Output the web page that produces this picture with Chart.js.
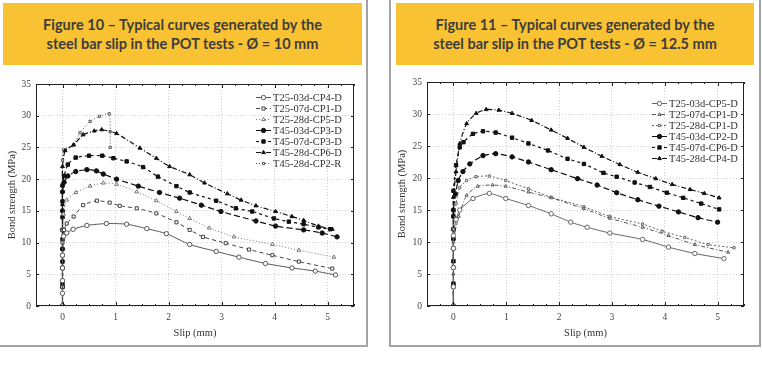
<!DOCTYPE html>
<html>
<head>
<meta charset="utf-8">
<script src="https://cdn.jsdelivr.net/npm/chart.js@4.4.0/dist/chart.umd.min.js"></script>
<style>
    body { margin: 0; width: 762px; height: 367px; background: #fff; position: relative; overflow: hidden; }
    .panel { position: absolute; top: -2px; border: 2px solid #a3a3a3; box-sizing: border-box; }
    .header {
        position: absolute; top: 3px; height: 62px; background: #f9c232;
        color: #3d3d3d; font-family: 'Lato', sans-serif; font-weight: 700; font-size: 14.5px;
        line-height: 19px; text-align: center; display: flex; align-items: center; justify-content: center;
    }
    canvas { position: absolute; }
</style>
</head>
<body>
<div class="panel" style="left:-2px; width:370px; height:349px;"></div>
<div class="panel" style="left:389px; width:372px; height:349px;"></div>
<div class="header" style="left:3px; width:359px;">Figure 10 – Typical curves generated by the<br>steel bar slip in the POT tests - Ø = 10 mm</div>
<div class="header" style="left:396px; width:358px;">Figure 11 – Typical curves generated by the<br>steel bar slip in the POT tests - Ø = 12.5 mm</div>
<canvas id="chart10" width="366" height="274" style="left:0px; top:70px;"></canvas>
<canvas id="chart12" width="366" height="276" style="left:390px; top:68px;"></canvas>
<script>
// axis ticks
const xTicks = [0, 1, 2, 3, 4, 5];
const yTicks = [0, 5, 10, 15, 20, 25, 30, 35];

// Figure 10 - bar 10 mm
const labels10 = ['T25-03d-CP4-D', 'T25-07d-CP1-D', 'T25-28d-CP5-D', 'T45-03d-CP3-D', 'T45-07d-CP3-D', 'T45-28d-CP6-D', 'T45-28d-CP2-R'];
const slip10_a = [0, 0, 0, 0, 0, 0.02, 0.08, 0.2, 0.46, 0.83, 1.21, 1.59, 1.96, 2.4, 2.9, 3.33, 3.83, 4.33, 4.77, 5.15];
const bond10_a = [0, 2, 4, 6, 8, 11, 11.5, 12.1, 12.7, 13.0, 12.9, 12.2, 11.4, 9.7, 8.6, 7.7, 6.7, 6.0, 5.5, 4.9];
const slip10_b = [0, 0, 0, 0, 0, 0.03, 0.08, 0.21, 0.39, 0.65, 0.89, 1.08, 1.4, 1.77, 2.15, 2.4, 2.65, 3.08, 3.52, 3.96, 4.46, 5.09];
const bond10_b = [0, 3, 6, 8, 10, 12, 13.0, 14.1, 15.9, 16.6, 16.3, 15.8, 15.4, 14.6, 13.2, 12.0, 10.9, 9.9, 8.9, 8.0, 7.0, 5.9];
const slip10_c = [0, 0, 0, 0, 0.02, 0.08, 0.25, 0.52, 0.77, 1.02, 1.4, 1.77, 2.15, 2.4, 2.77, 3.24, 3.96, 4.46, 5.12];
const bond10_c = [0, 4, 8, 12, 14.5, 16.7, 17.9, 18.9, 19.4, 19.2, 18.0, 16.6, 14.9, 13.8, 12.3, 10.9, 9.7, 8.8, 7.7];
const slip10_d = [0, 0, 0, 0, 0, 0, 0, 0.03, 0.1, 0.25, 0.46, 0.64, 0.77, 1.02, 1.43, 1.83, 2.21, 2.62, 2.99, 3.65, 4.02, 4.55, 4.9, 5.18];
const bond10_d = [0, 3, 6, 9, 12, 15, 18, 19.5, 20.5, 21.2, 21.5, 21.3, 20.8, 20.0, 18.9, 17.9, 17.0, 15.9, 14.9, 13.4, 12.6, 12.0, 11.5, 10.9];
const slip10_e = [0, 0, 0, 0, 0, 0, 0, 0.03, 0.1, 0.25, 0.5, 0.75, 0.96, 1.21, 1.52, 1.8, 2.15, 2.4, 2.9, 3.27, 3.58, 3.99, 4.27, 4.55, 4.83, 5.05];
const bond10_e = [0, 3.5, 7, 10.5, 14, 16.5, 19, 20.5, 22.3, 23.4, 23.7, 23.7, 23.3, 22.8, 21.9, 20.4, 18.9, 17.9, 16.6, 15.4, 14.9, 13.8, 13.3, 12.9, 12.4, 12.1];
const slip10_f = [0, 0, 0, 0, 0, 0, 0, 0.05, 0.21, 0.39, 0.6, 0.74, 1.02, 1.46, 1.77, 2.02, 2.4, 2.68, 3.11, 3.37, 3.65, 4.02, 4.33, 4.55, 4.83, 5.09];
const bond10_f = [0, 4, 8, 12, 16, 19, 22, 24.5, 25.4, 27.0, 27.6, 27.8, 27.2, 24.9, 23.3, 22.0, 20.7, 19.4, 17.7, 16.7, 15.8, 14.9, 14.1, 13.5, 12.6, 12.1];
const slip10_g = [0, 0, 0, 0, 0.02, 0.21, 0.33, 0.52, 0.7, 0.88, 0.9, 0.9];
const bond10_g = [0, 8, 16, 23, 24.6, 25.4, 27.3, 29.1, 29.9, 30.3, 27.5, 25.0];

// Figure 11 - bar 12.5 mm
const labels12 = ['T25-03d-CP5-D', 'T25-07d-CP1-D', 'T25-28d-CP1-D', 'T45-03d-CP2-D', 'T45-07d-CP6-D', 'T45-28d-CP4-D'];
const slip12_a = [0, 0, 0, 0, 0, 0.05, 0.12, 0.37, 0.68, 0.99, 1.42, 1.85, 2.22, 2.53, 2.96, 3.58, 4.07, 4.57, 5.12];
const bond12_a = [0, 3, 6, 9, 11, 13.5, 15.0, 16.8, 17.6, 16.8, 15.7, 14.4, 13.1, 12.3, 11.4, 10.4, 9.2, 8.2, 7.4];
const slip12_b = [0, 0, 0, 0.1, 0.25, 0.46, 0.74, 0.99, 1.42, 1.85, 2.47, 2.96, 3.58, 4.07, 4.57, 5.2];
const bond12_b = [0, 5, 10, 14, 17.3, 18.7, 18.9, 18.7, 17.8, 16.9, 15.2, 13.7, 12.3, 11.0, 9.6, 8.4];
const slip12_c = [0, 0, 0, 0.05, 0.12, 0.25, 0.43, 0.68, 0.99, 1.42, 1.85, 2.47, 2.96, 3.58, 3.95, 4.38, 4.82, 5.31];
const bond12_c = [0, 6, 12, 16, 18.5, 19.6, 20.2, 20.3, 19.6, 18.3, 17.0, 15.5, 14.0, 12.8, 11.7, 10.7, 9.6, 9.1];
const slip12_d = [0, 0, 0, 0, 0, 0, 0.04, 0.09, 0.18, 0.31, 0.56, 0.8, 1.11, 1.42, 1.85, 2.35, 2.72, 3.09, 3.49, 3.89, 4.26, 4.63, 5.0];
const bond12_d = [0, 3, 6, 9, 12, 15, 17.5, 19.6, 21.0, 22.2, 23.5, 23.8, 23.3, 22.5, 21.3, 19.9, 18.9, 17.7, 16.6, 15.6, 14.7, 13.8, 13.1];
const slip12_e = [0, 0, 0, 0, 0, 0, 0.05, 0.12, 0.19, 0.37, 0.56, 0.8, 1.11, 1.42, 1.79, 2.16, 2.47, 2.84, 3.09, 3.43, 3.72, 4.04, 4.35, 4.69, 5.03];
const bond12_e = [0, 3.5, 7, 10.5, 14, 18, 22, 24.8, 25.6, 26.9, 27.3, 27.1, 26.3, 25.4, 24.3, 23.0, 22.2, 20.8, 20.2, 19.3, 18.6, 17.7, 16.9, 16.0, 15.1];
const slip12_f = [0, 0, 0, 0, 0, 0, 0.05, 0.12, 0.25, 0.43, 0.62, 0.86, 1.11, 1.48, 1.85, 2.16, 2.47, 2.81, 3.15, 3.49, 3.83, 4.14, 4.48, 4.75, 5.03];
const bond12_f = [0, 3.5, 7, 10.5, 14, 17, 21, 25.4, 28.5, 30.1, 30.7, 30.6, 30.1, 29.0, 27.5, 26.2, 24.8, 23.4, 22.1, 20.9, 19.9, 19.0, 18.2, 17.6, 16.9];

const serif = "'Liberation Serif', 'DejaVu Serif', serif";

function points(xs, ys) {
    return xs.map((x, i) => ({ x: x, y: ys[i] }));
}

function series(label, xs, ys, dash, style, open, radius, color) {
    return {
        label: label,
        data: points(xs, ys),
        borderColor: color,
        borderWidth: open ? 1 : 1.2,
        borderDash: dash,
        pointStyle: style,
        pointRadius: radius,
        pointBorderWidth: 1,
        pointBorderColor: color,
        pointBackgroundColor: open ? '#fff' : color,
        tension: 0.2,
        fill: false,
    };
}

const framePlugin = {
    id: 'frame',
    afterDatasetsDraw(chart) {
        const { ctx, chartArea: a, scales } = chart;
        ctx.save();
        ctx.strokeStyle = '#222';
        ctx.lineWidth = 1;
        ctx.setLineDash([]);
        ctx.strokeRect(a.left + 0.5, a.top + 0.5, a.right - a.left - 1, a.bottom - a.top - 1);
        ctx.beginPath();
        for (let v = -0.5; v <= 5.5; v += 0.25) {
            const px = Math.round(scales.x.getPixelForValue(v)) + 0.5;
            const len = Number.isInteger(v) ? 4 : 2;
            ctx.moveTo(px, a.top); ctx.lineTo(px, a.top + len);
            ctx.moveTo(px, a.bottom); ctx.lineTo(px, a.bottom - len);
        }
        yTicks.forEach((v) => {
            const py = Math.round(scales.y.getPixelForValue(v)) + 0.5;
            ctx.moveTo(a.left, py); ctx.lineTo(a.left + 3, py);
            ctx.moveTo(a.right, py); ctx.lineTo(a.right - 3, py);
        });
        ctx.stroke();
        ctx.restore();
    },
};

const legendPlugin = {
    id: 'insideLegend',
    afterDatasetsDraw(chart, args, opts) {
        const { ctx, chartArea: a } = chart;
        ctx.save();
        ctx.font = '10.5px ' + serif;
        ctx.textBaseline = 'middle';
        chart.data.datasets.forEach((ds, i) => {
            const y = a.top + opts.top + i * opts.row;
            const x0 = a.right - opts.right;
            ctx.strokeStyle = ds.borderColor;
            ctx.lineWidth = 1;
            ctx.setLineDash(ds.borderDash || []);
            ctx.beginPath();
            ctx.moveTo(x0, y + 0.5);
            ctx.lineTo(x0 + 15, y + 0.5);
            ctx.stroke();
            ctx.setLineDash([]);
            ctx.fillStyle = ds.pointBackgroundColor;
            ctx.strokeStyle = ds.pointBorderColor;
            Chart.helpers.drawPoint(ctx, { pointStyle: ds.pointStyle, rotation: 0, radius: ds.pointRadius, borderWidth: 1 }, x0 + 7.5, y + 0.5);
            ctx.fillStyle = '#333';
            ctx.fillText(ds.label, x0 + 17, y + 1);
        });
        ctx.restore();
    },
};

function makeChart(id, datasets, leftWidth, legendOpts) {
    return new Chart(document.getElementById(id), {
        type: 'line',
        data: { datasets: datasets },
        plugins: [framePlugin, legendPlugin],
        options: {
            responsive: false,
            animation: false,
            layout: { padding: { left: 0, right: 12, top: 14, bottom: 0 } },
            scales: {
                x: {
                    type: 'linear',
                    min: -0.5,
                    max: 5.5,
                    afterBuildTicks: (s) => { s.ticks = xTicks.map((v) => ({ value: v })); },
                    afterFit: (s) => { s.height = 38; },
                    grid: { color: '#cfcfcf', drawTicks: false },
                    border: { display: false, dash: [1, 2] },
                    ticks: { font: { family: serif, size: 9.5 }, color: '#444', padding: 6, maxRotation: 0 },
                    title: { display: true, text: 'Slip (mm)', font: { family: serif, size: 10.5 }, color: '#333', padding: { top: 2, bottom: 4 } },
                },
                y: {
                    min: 0,
                    max: 35,
                    afterBuildTicks: (s) => { s.ticks = yTicks.map((v) => ({ value: v })); },
                    afterFit: (s) => { s.width = leftWidth; },
                    grid: { color: '#cfcfcf', drawTicks: false },
                    border: { display: false, dash: [1, 2] },
                    ticks: { font: { family: serif, size: 9.5 }, color: '#444', padding: 5 },
                    title: { display: true, text: 'Bond strength (MPa)', font: { family: serif, size: 10.5 }, color: '#333', padding: { top: 6, bottom: 2 } },
                },
            },
            plugins: {
                legend: { display: false },
                tooltip: { enabled: false },
                insideLegend: legendOpts,
            },
        },
    });
}

makeChart('chart10', [
    series(labels10[0], slip10_a, bond10_a, [], 'circle', true, 2.2, '#555'),
    series(labels10[1], slip10_b, bond10_b, [4, 3], 'rect', true, 2.2, '#444'),
    series(labels10[2], slip10_c, bond10_c, [1, 2], 'triangle', true, 2.2, '#777'),
    series(labels10[3], slip10_d, bond10_d, [6, 3], 'circle', false, 2.2, '#111'),
    series(labels10[4], slip10_e, bond10_e, [3, 3], 'rect', false, 2.4, '#111'),
    series(labels10[5], slip10_f, bond10_f, [5, 2, 1, 2], 'triangle', false, 2.2, '#111'),
    series(labels10[6], slip10_g, bond10_g, [1, 2], 'rect', true, 1.6, '#555'),
], 36, { top: 13, row: 11, right: 98 });

makeChart('chart12', [
    series(labels12[0], slip12_a, bond12_a, [], 'circle', true, 2.2, '#666'),
    series(labels12[1], slip12_b, bond12_b, [4, 2, 1, 2], 'triangle', true, 1.8, '#555'),
    series(labels12[2], slip12_c, bond12_c, [2, 2], 'rect', true, 1.6, '#666'),
    series(labels12[3], slip12_d, bond12_d, [6, 3], 'circle', false, 2.2, '#111'),
    series(labels12[4], slip12_e, bond12_e, [3, 3], 'rect', false, 2.4, '#111'),
    series(labels12[5], slip12_f, bond12_f, [5, 2, 1, 2], 'triangle', false, 2.2, '#111'),
], 37, { top: 21, row: 11, right: 92 });
</script>
</body>
</html>
